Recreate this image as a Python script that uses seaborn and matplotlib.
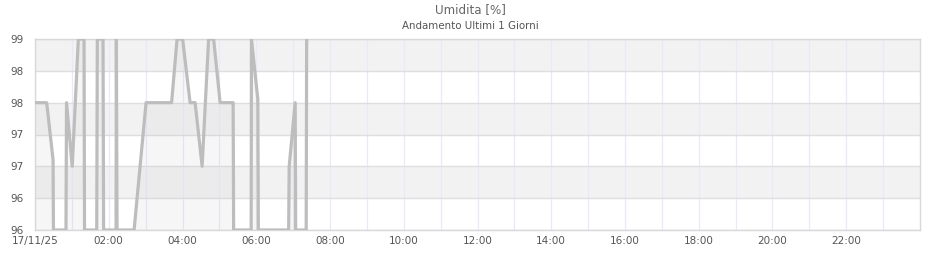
import matplotlib
matplotlib.use("Agg")
import matplotlib.pyplot as plt
import matplotlib.dates as mdates
import seaborn as sns
import pandas as pd
import numpy as np

# data (hours since 17/11/25 00:00, humidity %)
hours = [0.0, 0.317, 0.49, 0.50, 0.84, 0.855, 1.01, 1.175, 1.33, 1.343, 1.674, 1.69,
         1.845, 1.86, 2.198, 2.206, 2.225, 2.687, 3.012, 3.704, 3.853, 4.003, 4.206,
         4.342, 4.532, 4.708, 4.844, 5.02, 5.373, 5.387, 5.862, 5.870, 6.043, 6.057,
         6.879, 6.893, 7.056, 7.069, 7.354, 7.367]
humidity = [98, 98, 97.1, 96, 96, 98, 97, 99, 99, 96, 96, 99,
            99, 96, 96, 99, 96, 96, 98, 98, 99, 99, 98,
            98, 97, 99, 99, 98, 98, 96, 96, 99, 98.05, 96,
            96, 97, 98, 96, 96, 99]
ytick_values = [96, 96.5, 97, 97.5, 98, 98.5, 99]
ytick_labels = ["96", "96", "97", "97", "98", "98", "99"]
xtick_hours = [0, 2, 4, 6, 8, 10, 12, 14, 16, 18, 20, 22]
xtick_labels = ["17/11/25", "02:00", "04:00", "06:00", "08:00", "10:00", "12:00",
                "14:00", "16:00", "18:00", "20:00", "22:00"]
title = "Umidita [%]"
subtitle = "Andamento Ultimi 1 Giorni"

start = pd.Timestamp("2025-11-17 00:00")
df = pd.DataFrame({
    "time": [start + pd.Timedelta(hours=h) for h in hours],
    "humidity": humidity,
})

sns.set_style("white")
plt.rcParams['font.family'] = ['DejaVu Sans']

fig = plt.figure(figsize=(9.4, 2.6), dpi=100)
ax = fig.add_axes([35/940, 30/260, 885/940, 191/260])

# background bands
for lo, hi in [(98.5, 99), (97.5, 98), (96.5, 97)]:
    ax.axhspan(lo, hi, color="#f2f2f2", zorder=0, lw=0)

ax.fill_between(df["time"], df["humidity"], 96, color="#bdbdbd", alpha=0.12, lw=0, zorder=2)
sns.lineplot(data=df, x="time", y="humidity", ax=ax, color="#bdbdbd", lw=2.3,
             zorder=3, estimator=None, sort=False)

ax.set_xlim(start, start + pd.Timedelta(hours=24))
ax.set_ylim(96, 99)
ax.set_yticks(ytick_values)
ax.set_yticklabels(ytick_labels)

ax.set_xticks([start + pd.Timedelta(hours=h) for h in xtick_hours])
ax.set_xticklabels(xtick_labels)
ax.set_xticks([start + pd.Timedelta(hours=h) for h in range(1, 24)], minor=True)

ax.grid(False)
ax.grid(which="both", axis="x", color="#ebe9f9", lw=0.9, zorder=1)
ax.grid(which="major", axis="y", color="#dedede", lw=1.0, zorder=1)
ax.set_axisbelow(True)

ax.tick_params(axis="both", which="both", length=0, labelsize=7.5, labelcolor="#555555", pad=4)
ax.tick_params(axis="y", pad=8)
for s in ax.spines.values():
    s.set_color("#d8d8d8")
    s.set_linewidth(1.0)

ax.set_xlabel("")
ax.set_ylabel("")

fig.text(0.5, 1 - 10/260, title, ha="center", va="center", fontsize=8.6, color="#666666")
fig.text(0.5, 1 - 26/260, subtitle, ha="center", va="center", fontsize=7.4, color="#555555")

fig.savefig("out.png", dpi=100)
